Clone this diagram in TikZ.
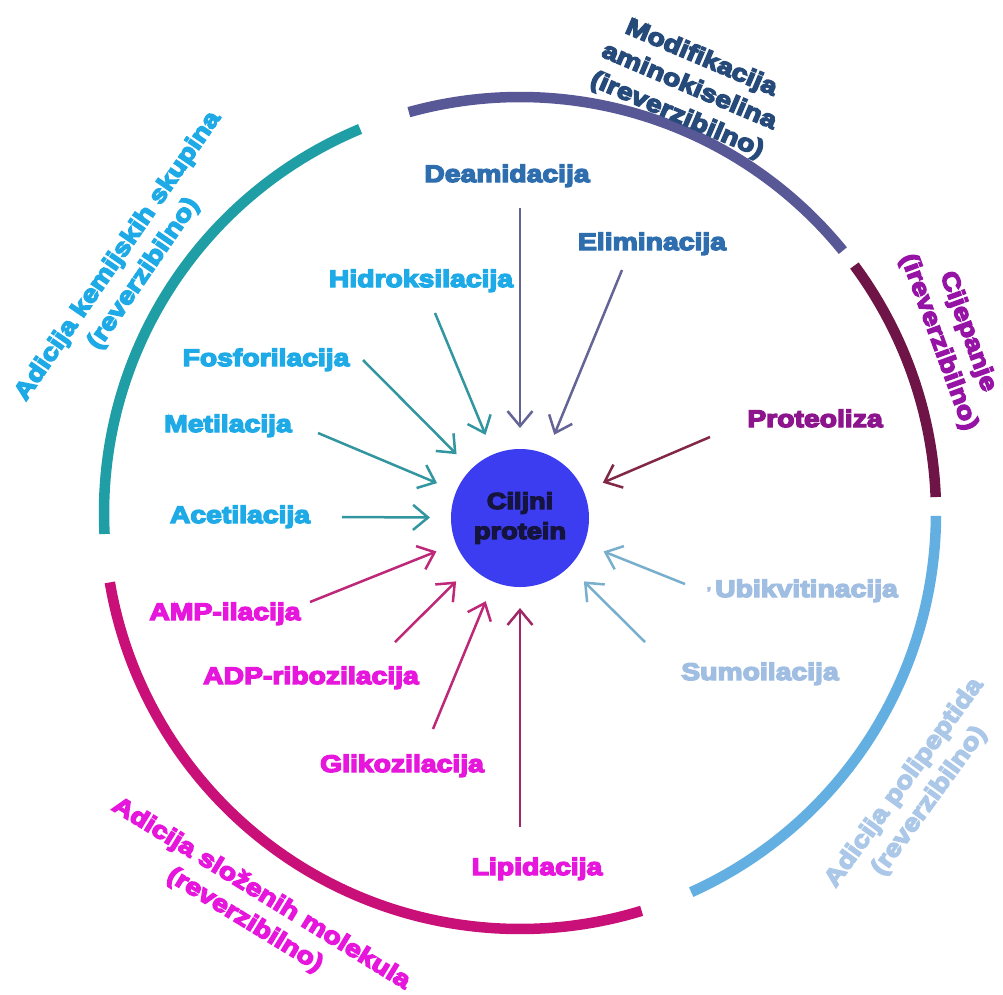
\documentclass[tikz,border=0pt]{standalone}
\usepackage{fontspec}
\newfontfamily\lblfont{Liberation Sans}[BoldFeatures={FakeStretch=1.18,FakeBold=6}]
\usetikzlibrary{arrows.meta}
\definecolor{ringteal}{RGB}{32,158,165}
\definecolor{ringpurple}{RGB}{88,88,150}
\definecolor{ringmaroon}{RGB}{110,20,70}
\definecolor{ringlblue}{RGB}{100,175,225}
\definecolor{ringmag}{RGB}{200,16,120}
\definecolor{txtcyan}{RGB}{30,170,230}
\definecolor{txtsteel}{RGB}{46,110,175}
\definecolor{txtnavy}{RGB}{38,74,122}
\definecolor{txtpurple}{RGB}{140,20,140}
\definecolor{txtcij}{RGB}{150,20,165}
\definecolor{txtpale}{RGB}{160,190,225}
\definecolor{txtpoli}{RGB}{172,200,232}
\definecolor{txtmag}{RGB}{230,22,220}
\definecolor{arrpurple}{RGB}{100,100,150}
\definecolor{arrteal}{RGB}{50,150,160}
\definecolor{arrmaroon}{RGB}{130,40,70}
\definecolor{arrpale}{RGB}{120,175,205}
\definecolor{arrmag}{RGB}{190,40,120}
\definecolor{arrlip}{RGB}{160,40,100}
\definecolor{core}{RGB}{60,60,240}
\definecolor{coretext}{RGB}{20,20,60}
\begin{document}
\begin{tikzpicture}[x=1pt,y=-1pt,
  lbl/.style={font=\lblfont\bfseries\fontsize{24}{30}\selectfont, inner sep=0pt, anchor=base},
  arclbl/.style={font=\lblfont\bfseries\fontsize{24}{31}\selectfont, inner sep=0pt, align=center},
  arr/.style={line width=2.5pt, -{Straight Barb[length=15pt,width=25pt]}, shorten >=21pt},
  ringseg/.style={line width=10.5pt}]
\fill[white] (0,0) rectangle (1003,994);
\useasboundingbox (0,0) rectangle (1003,994);

% outer ring segments
\begin{scope}[shift={(520,513)}, x=1pt, y=1pt]
  \draw[ringseg, ringteal] (112.6:416) arc[start angle=112.6, end angle=182.9, radius=416];
  \draw[ringseg, ringpurple] (105.5:416) arc[start angle=105.5, end angle=39.1, radius=416];
  \draw[ringseg, ringmaroon] (36.5:416) arc[start angle=36.5, end angle=2.2, radius=416];
  \draw[ringseg, ringlblue] (-0.4:416) arc[start angle=-0.4, end angle=-65.7, radius=416];
  \draw[ringseg, ringmag] (189.6:416) arc[start angle=189.6, end angle=287, radius=416];
\end{scope}

% central protein
\node[circle, fill=core, minimum size=138pt, inner sep=0pt, outer sep=0pt, align=center,
      text=coretext, font=\lblfont\bfseries\fontsize{23}{30}\selectfont] (circ) at (520,518) {Ciljni\\protein};

% group labels
\node[arclbl, text=txtcyan, rotate=55.5] (kem) at (131,265) {Adicija kemijskih skupina\\(reverzibilno)};
\node[arclbl, text=txtnavy, rotate=-23] (mod) at (689,87) {Modifikacija\\aminokiselina\\(ireverzibilno)};
\node[arclbl, text=txtcij, rotate=-70] (cij) at (953,337) {Cijepanje\\(ireverzibilno)};
\node[arclbl, text=txtpoli, rotate=54] (poli) at (917,792) {Adicija polipeptida\\(reverzibilno)};
\node[arclbl, text=txtmag, rotate=-31.5] (sloz) at (253,907) {Adicija složenih molekula\\(reverzibilno)};

% modification labels
\node[lbl, text=txtsteel] (deam) at (507,182) {Deamidacija};
\node[lbl, text=txtsteel] (elim) at (652,250) {Eliminacija};
\node[lbl, text=txtcyan] (hidro) at (421,287) {Hidroksilacija};
\node[lbl, text=txtcyan] (fosfo) at (266,366) {Fosforilacija};
\node[lbl, text=txtcyan] (metil) at (228,432) {Metilacija};
\node[lbl, text=txtcyan] (acetil) at (240,523) {Acetilacija};
\node[lbl, text=txtmag] (amp) at (225,620) {AMP-ilacija};
\node[lbl, text=txtmag] (adp) at (311,684) {ADP-ribozilacija};
\node[lbl, text=txtmag] (gliko) at (402,772) {Glikozilacija};
\node[lbl, text=txtmag] (lipid) at (537,875) {Lipidacija};
\node[lbl, text=txtpurple] (proteo) at (815,427) {Proteoliza};
\node[lbl, text=txtpale, anchor=base east] (ubik) at (898,597) {{\fontsize{14}{14}\selectfont\textquoteright}\hspace{4pt}Ubikvitinacija};
\node[lbl, text=txtpale] (sumo) at (760,680) {Sumoilacija};

% arrow tails
\coordinate (s-deam) at (520,208);
\coordinate (s-elim) at (622,270);
\coordinate (s-hidro) at (435,313);
\coordinate (s-fosfo) at (363,360);
\coordinate (s-metil) at (318,433);
\coordinate (s-acetil) at (342,517);
\coordinate (s-amp) at (310,602);
\coordinate (s-adp) at (395,642);
\coordinate (s-gliko) at (433,729);
\coordinate (s-lipid) at (520,827);
\coordinate (s-proteo) at (710,437);
\coordinate (s-ubik) at (685,584);
\coordinate (s-sumo) at (645,642);

\draw[arr, arrpurple] (s-deam) -- (circ);
\draw[arr, arrpurple] (s-elim) -- (circ);
\draw[arr, arrteal] (s-hidro) -- (circ);
\draw[arr, arrteal] (s-fosfo) -- (circ);
\draw[arr, arrteal] (s-metil) -- (circ);
\draw[arr, arrteal] (s-acetil) -- (circ);
\draw[arr, arrmag] (s-amp) -- (circ);
\draw[arr, arrmag] (s-adp) -- (circ);
\draw[arr, arrmag] (s-gliko) -- (circ);
\draw[arr, arrlip] (s-lipid) -- (circ);
\draw[arr, arrmaroon] (s-proteo) -- (circ);
\draw[arr, arrpale] (s-ubik) -- (circ);
\draw[arr, arrpale] (s-sumo) -- (circ);
\end{tikzpicture}
\end{document}
